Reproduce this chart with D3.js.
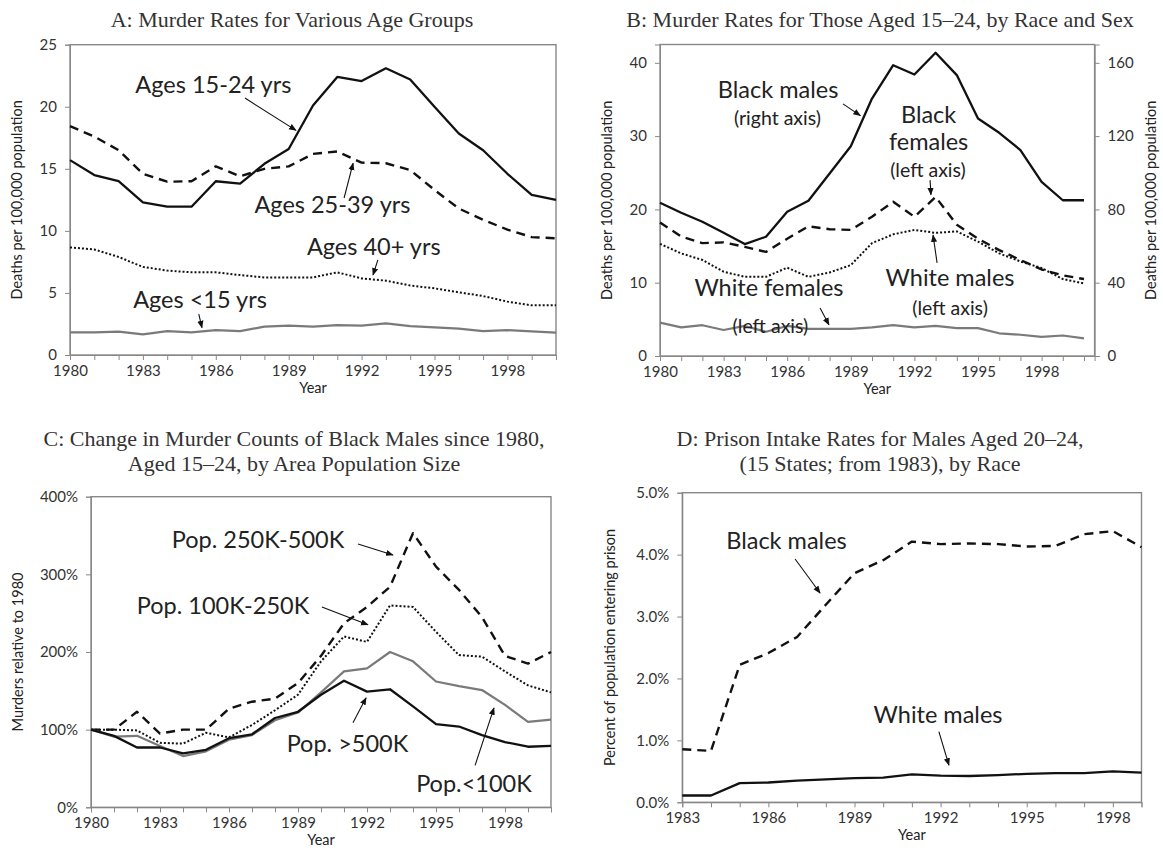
<!DOCTYPE html>
<html lang="en">
<head>
<meta charset="UTF-8">
<title>Murder and prison intake rates, 1980-2000</title>
<script src="https://d3js.org/d3.v7.min.js"></script>
<style>
  body { margin: 0; padding: 0; background: #fff; }
  svg text { font-family: Lato, "Open Sans", sans-serif; fill: #222; }
  .title { font-family: "Liberation Serif", serif; font-size: 22px; fill: #333; }
  .axis text { font-size: 15px; fill: #333; }
  .axis path, .axis line { stroke: #888; }
  .ylab, .xlab { font-size: 14.5px; }
  .note { font-size: 23.5px; }
  .note-small { font-size: 19.5px; }
</style>
</head>
<body>
<script>
// ---- data ----
const years80 = [1980,1981,1982,1983,1984,1985,1986,1987,1988,1989,1990,
                 1991,1992,1993,1994,1995,1996,1997,1998,1999,2000];
const years83 = [1983,1984,1985,1986,1987,1988,1989,1990,1991,
                 1992,1993,1994,1995,1996,1997,1998,1999];
const labelYears80 = [1980,1983,1986,1989,1992,1995,1998];
const labelYears83 = [1983,1986,1989,1992,1995,1998];

// A: deaths per 100,000
const ages15to24 = [15.7,14.5,14.0,12.3,11.95,11.95,14.0,13.8,15.4,16.6,20.1,22.4,22.07,23.1,22.2,20.0,17.85,16.5,14.6,12.9,12.5];
const ages25to39 = [18.44,17.6,16.5,14.6,13.96,14.0,15.2,14.4,15.0,15.2,16.2,16.4,15.5,15.45,14.9,13.3,11.8,10.9,10.1,9.5,9.4];
const ages40plus = [8.67,8.5,7.9,7.1,6.8,6.66,6.66,6.44,6.25,6.25,6.25,6.66,6.17,5.99,5.6,5.37,5.05,4.75,4.3,4.0,4.0];
const agesUnder15 = [1.83,1.83,1.88,1.66,1.93,1.83,2.0,1.93,2.28,2.36,2.28,2.4,2.36,2.55,2.33,2.23,2.12,1.93,2.0,1.9,1.8];
const ticksA = [0,5,10,15,20,25];

// B: ages 15-24 by race and sex (black males on the right axis)
const blackMales = [83.6,78.2,73.3,67.3,61.1,65.1,78.7,84.7,99.6,114.5,140.5,158.7,153.6,165.5,153.3,129.6,121.8,112.4,95,85,85];
const blackFemales = [18.2,16.3,15.4,15.5,14.9,14.2,16.0,17.7,17.3,17.2,19.0,21.05,19.0,21.7,17.9,16.0,14.45,13.1,11.8,11.0,10.5];
const whiteMales = [15.3,14.0,13.1,11.5,10.8,10.8,12.05,10.8,11.4,12.4,15.4,16.6,17.2,16.8,17.0,15.6,14.0,12.9,12.0,10.5,9.9];
const whiteFemales = [4.55,3.9,4.2,3.55,4.1,3.3,4.1,3.7,3.7,3.7,3.9,4.2,3.9,4.1,3.8,3.8,3.1,2.9,2.6,2.8,2.4];
const ticksBLeft = [0,10,20,30,40];
const ticksBRight = [0,40,80,120,160];

// C: murders relative to 1980 (%)
const popOver500K = [100,92,77,77,69.5,74,89,94,115,123,145,163,149,152,130,107,104,93,84,78,79];
const pop250to500K = [100,100,123,95,100,100,127,136,140,160,195,237,258,284,353,310,280,245,195,185,200];
const pop100to250K = [100,100,99,83,82,96,90,106,125,145,188,220,213,260,258,226,196,194,175,157,148];
const popUnder100K = [100,91,92,79,66,72,87,93,112,122,148,175,179,200,188,162,156,151,132,110,113];
const ticksC = [0,100,200,300,400];

// D: percent of population entering prison
const prisonBlack = [0.856,0.83,2.22,2.41,2.67,3.19,3.70,3.91,4.21,4.17,4.18,4.17,4.13,4.14,4.33,4.38,4.12];
const prisonWhite = [0.11,0.11,0.31,0.32,0.35,0.37,0.39,0.40,0.45,0.43,0.425,0.44,0.46,0.47,0.47,0.5,0.48];
const ticksD = [0,1,2,3,4,5];

// annotations, in data units: [year, value]
const notesA = [
  {t: "Ages 15-24 yrs", at: [1985.9, 21.1]},
  {t: "Ages 25-39 yrs", at: [1990.8, 11.45]},
  {t: "Ages 40+ yrs", at: [1992.5, 8.06]},
  {t: "Ages <15 yrs", at: [1985.35, 3.8]}
];
const arrowsA = [
  [[1987.2, 20.7], [1989.3, 18.1]],
  [[1991.28, 12.65], [1991.65, 15.45]],
  [[1992.67, 7.66], [1992.47, 6.45]],
  [[1985.3, 3.3], [1985.43, 2.2]]
];
const notesB = [
  {t: "Black males", at: [1985.57, 35.2]},
  {t: "(right axis)", at: [1985.54, 31.5], small: true},
  {t: "Black", at: [1992.67, 31.8]},
  {t: "females", at: [1992.67, 28.1]},
  {t: "(left axis)", at: [1992.64, 24.4], small: true},
  {t: "White males", at: [1993.68, 9.55]},
  {t: "(left axis)", at: [1993.68, 5.6], small: true},
  {t: "White females", at: [1985.14, 8.2]},
  {t: "(left axis)", at: [1985.21, 3.15], small: true}
];
const arrowsB = [
  [[1988.63, 34.4], [1989.45, 32.8]],
  [[1992.74, 24.0], [1992.78, 22.0]],
  [[1993.07, 12.7], [1992.88, 16.5]],
  [[1987.55, 6.55], [1987.97, 4.25]]
];
const notesC = [
  {t: "Pop. 250K-500K", at: [1987.26, 334]},
  {t: "Pop. 100K-250K", at: [1985.74, 249]},
  {t: "Pop. >500K", at: [1991.15, 71]},
  {t: "Pop.<100K", at: [1996.65, 20]}
];
const arrowsC = [
  [[1991.61, 339], [1993.13, 325]],
  [[1990.04, 258], [1992.04, 235]],
  [[1991.39, 109], [1991.96, 141]],
  [[1996.7, 54], [1997.52, 128]]
];
const notesD = [
  {t: "Black males", at: [1986.63, 4.09]},
  {t: "White males", at: [1991.91, 1.28]}
];
const arrowsD = [
  [[1986.93, 3.93], [1987.8, 3.38]],
  [[1991.94, 1.14], [1992.29, 0.60]]
];

// ---- drawing ----
const W = 1163, H = 850;
const svg = d3.select("body").append("svg")
    .attr("width", W).attr("height", H);

svg.append("defs").append("marker")
    .attr("id", "arrow")
    .attr("viewBox", "0 0 10 10")
    .attr("refX", 9).attr("refY", 5)
    .attr("markerWidth", 7).attr("markerHeight", 7)
    .attr("orient", "auto")
  .append("path")
    .attr("d", "M0,1 L10,5 L0,9 Z")
    .attr("fill", "#111");

const styles = {
  solid:  {stroke: "#111", width: 2.3, dash: null},
  dashed: {stroke: "#111", width: 2.4, dash: "9,6"},
  dotted: {stroke: "#111", width: 2, dash: "2,2"},
  gray:   {stroke: "#7a7a7a", width: 2.2, dash: null}
};

function drawPanel(p) {
  const x = d3.scaleLinear().domain(p.xDomain).range([p.left, p.right]);
  const y = d3.scaleLinear().domain(p.yDomain).range([p.bottom, p.top]);
  const g = svg.append("g");

  // title
  p.title.forEach((line, i) => {
    g.append("text").attr("class", "title")
      .attr("x", p.titleX).attr("y", p.titleY + i * 25)
      .attr("text-anchor", "middle").text(line);
  });

  // frame
  g.append("rect")
    .attr("x", p.left).attr("y", p.top)
    .attr("width", p.right - p.left).attr("height", p.bottom - p.top)
    .attr("fill", "none").attr("stroke", "#888").attr("stroke-width", 1.4);

  // axes
  const labelled = new Set(p.xLabels);
  g.append("g").attr("class", "axis")
    .attr("transform", `translate(0,${p.bottom})`)
    .call(d3.axisBottom(x).tickValues(p.xYears).tickSize(5).tickPadding(5)
      .tickFormat(d => labelled.has(d) ? d : ""));
  g.append("g").attr("class", "axis")
    .attr("transform", `translate(${p.left},0)`)
    .call(d3.axisLeft(y).tickValues(p.yTicks).tickSize(5).tickPadding(8)
      .tickFormat(p.yFmt));

  g.append("text").attr("class", "xlab")
    .attr("x", (p.left + p.right) / 2).attr("y", p.bottom + 38)
    .attr("text-anchor", "middle").text("Year");
  g.append("text").attr("class", "ylab")
    .attr("transform", `translate(${p.yLabelX},${(p.top + p.bottom) / 2}) rotate(-90)`)
    .attr("text-anchor", "middle").text(p.yLabel);

  let yR = null;
  if (p.right2) {
    yR = d3.scaleLinear().domain(p.right2.domain).range([p.bottom, p.top]);
    g.append("g").attr("class", "axis")
      .attr("transform", `translate(${p.right},0)`)
      .call(d3.axisRight(yR).tickValues(p.right2.ticks).tickSize(5).tickPadding(8));
    g.append("text").attr("class", "ylab")
      .attr("transform", `translate(${p.right2.labelX},${(p.top + p.bottom) / 2}) rotate(-90)`)
      .attr("text-anchor", "middle").text(p.yLabel);
  }

  // series
  p.series.forEach(s => {
    const ys = s.right ? yR : y;
    const st = styles[s.style];
    const line = d3.line().x((d, i) => x(s.years[i])).y(d => ys(d));
    g.append("path").datum(s.values)
      .attr("d", line)
      .attr("fill", "none")
      .attr("stroke", st.stroke)
      .attr("stroke-width", st.width)
      .attr("stroke-dasharray", st.dash)
      .attr("stroke-linejoin", "round");
  });

  // annotations
  p.notes.forEach(n => {
    g.append("text").attr("class", n.small ? "note-small" : "note")
      .attr("x", x(n.at[0])).attr("y", y(n.at[1]))
      .attr("text-anchor", "middle").text(n.t);
  });
  p.arrows.forEach(a => {
    g.append("line")
      .attr("x1", x(a[0][0])).attr("y1", y(a[0][1]))
      .attr("x2", x(a[1][0])).attr("y2", y(a[1][1]))
      .attr("stroke", "#111").attr("stroke-width", 1.1)
      .attr("marker-end", "url(#arrow)");
  });
}

drawPanel({
  title: ["A: Murder Rates for Various Age Groups"], titleX: 292, titleY: 27,
  left: 70, right: 556, top: 44.7, bottom: 355,
  xDomain: [1980, 2000], xYears: years80, xLabels: labelYears80,
  yDomain: [0, 25], yTicks: ticksA, yFmt: d => d,
  yLabel: "Deaths per 100,000 population", yLabelX: 22,
  series: [
    {values: ages15to24, years: years80, style: "solid"},
    {values: ages25to39, years: years80, style: "dashed"},
    {values: ages40plus, years: years80, style: "dotted"},
    {values: agesUnder15, years: years80, style: "gray"}
  ],
  notes: notesA, arrows: arrowsA
});

drawPanel({
  title: ["B: Murder Rates for Those Aged 15\u201324, by Race and Sex"], titleX: 880, titleY: 27,
  left: 660, right: 1094.6, top: 44.5, bottom: 356,
  xDomain: [1980, 2000.5], xYears: years80, xLabels: labelYears80,
  yDomain: [0, 42.5], yTicks: ticksBLeft, yFmt: d => d,
  yLabel: "Deaths per 100,000 population", yLabelX: 612,
  right2: {domain: [0, 170], ticks: ticksBRight, labelX: 1156},
  series: [
    {values: blackMales, years: years80, style: "solid", right: true},
    {values: blackFemales, years: years80, style: "dashed"},
    {values: whiteMales, years: years80, style: "dotted"},
    {values: whiteFemales, years: years80, style: "gray"}
  ],
  notes: notesB, arrows: arrowsB
});

drawPanel({
  title: ["C: Change in Murder Counts of Black Males since 1980,",
          "Aged 15\u201324, by Area Population Size"], titleX: 294, titleY: 446,
  left: 91, right: 551, top: 496.7, bottom: 807.3,
  xDomain: [1980, 2000], xYears: years80, xLabels: labelYears80,
  yDomain: [0, 400], yTicks: ticksC, yFmt: d => d + "%",
  yLabel: "Murders relative to 1980", yLabelX: 23,
  series: [
    {values: pop250to500K, years: years80, style: "dashed"},
    {values: pop100to250K, years: years80, style: "dotted"},
    {values: popUnder100K, years: years80, style: "gray"},
    {values: popOver500K, years: years80, style: "solid"}
  ],
  notes: notesC, arrows: arrowsC
});

drawPanel({
  title: ["D: Prison Intake Rates for Males Aged 20\u201324,",
          "(15 States; from 1983), by Race"], titleX: 880, titleY: 446,
  left: 682.3, right: 1141.5, top: 492.7, bottom: 802.3,
  xDomain: [1983, 1999], xYears: years83, xLabels: labelYears83,
  yDomain: [0, 5], yTicks: ticksD, yFmt: d => d.toFixed(1) + "%",
  yLabel: "Percent of population entering prison", yLabelX: 615,
  series: [
    {values: prisonBlack, years: years83, style: "dashed"},
    {values: prisonWhite, years: years83, style: "solid"}
  ],
  notes: notesD, arrows: arrowsD
});
</script>
</body>
</html>
